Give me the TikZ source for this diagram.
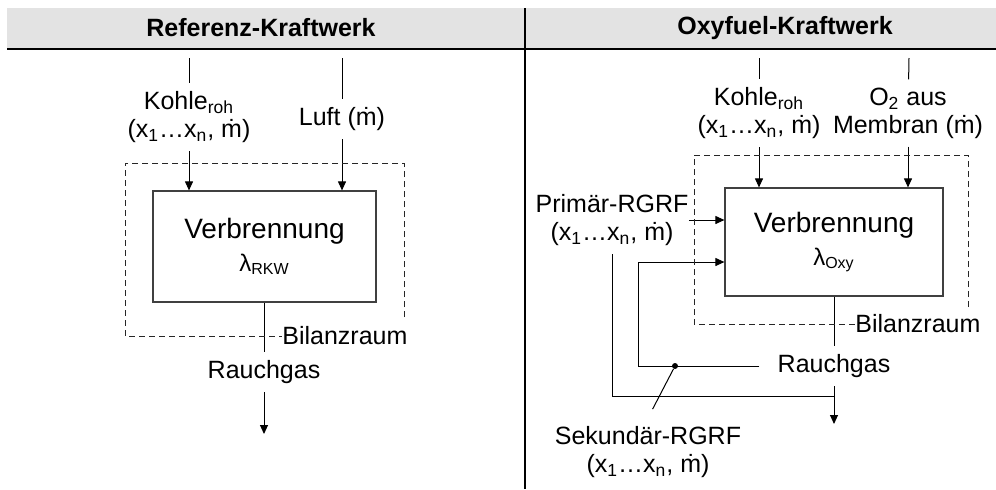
\documentclass[tikz,border=0pt]{standalone}
\usepackage{fontspec}
\setmainfont{Liberation Sans}
\setsansfont{Liberation Sans}
\tikzset{every picture/.style={/utils/exec={\sffamily}}}
\usetikzlibrary{calc}
\usetikzlibrary{positioning}
\usetikzlibrary{arrows.meta}

\newcommand{\massflow}{\.{m}}
\newcommand{\xrange}{(x\textsubscript{1}…x\textsubscript{n}, \massflow)}

\tikzset{
  flow/.style={draw=black, line width=0.5pt},
  feed/.style={flow, -{Triangle[length=4.5pt,width=4pt]}},
  balance/.style={draw=black!85, line width=0.5pt, dash pattern=on 3pt off 2pt},
  lbl/.style={align=center, inner sep=4pt, font=\fontsize{12.5}{14}\selectfont},
  title/.style={font=\fontsize{12.5}{14}\selectfont\bfseries},
  unit/.style={draw=black!75, line width=0.6pt, align=center,
    font=\fontsize{14}{16.5}\selectfont},
}

\begin{document}
\begin{tikzpicture}[x=0.5pt, y=-0.5pt]
  \useasboundingbox (0,0) rectangle (996,489);

  % header and divider
  \fill[black!11] (7,8) rectangle (996,48);
  \draw[line width=1pt] (7,49) -- (996,49);
  \draw[line width=1pt] (525,8) -- (525,489);
  \node[title] (headA) at (261,28) {Referenz-Kraftwerk};
  \node[title] (headB) at (785,28) {Oxyfuel-Kraftwerk};

  %% Referenz-Kraftwerk
  \node[unit, minimum width=111.5pt, minimum height=55.5pt] (boxA) at (264.5,246.5)
    {Verbrennung\\{\fontsize{12}{14}\selectfont λ\textsubscript{RKW}}};

  \node[lbl] (kohleA) at (189,117) {Kohle\textsubscript{roh}\\\xrange};
  \node[lbl] (luftA) at (342,119) {Luft (\massflow)};
  \node[lbl] (rauchA) at (264,372) {Rauchgas};
  \node[lbl, inner sep=0pt, anchor=west] (bilanzA) at (282,336) {Bilanzraum};

  \coordinate (kohleAin) at (189,58);
  \coordinate (luftAin) at (342,58);
  \coordinate (outA) at (264,434);

  \draw[flow] (kohleAin) -- (kohleA);
  \draw[feed] (kohleA) -- (kohleA |- boxA.north);
  \draw[flow] (luftAin) -- (luftA);
  \draw[feed] (luftA) -- (luftA |- boxA.north);
  \draw[flow] (boxA.south -| rauchA) -- (rauchA);
  \draw[feed] (rauchA) -- (outA);

  \draw[balance] (404,317) -- (404,163) -- (125,163) -- (125,336) -- (bilanzA.west);

  %% Oxyfuel-Kraftwerk
  \node[unit, minimum width=109pt, minimum height=54pt] (boxB) at (834,242)
    {Verbrennung\\{\fontsize{12}{14}\selectfont λ\textsubscript{Oxy}}};

  \node[lbl] (kohleB) at (759,113) {Kohle\textsubscript{roh}\\\xrange};
  \node[lbl] (oxyB) at (908,113) {O\textsubscript{2} aus\\Membran (\massflow)};
  \node[lbl, inner xsep=0pt] (primB) at (612,220) {Primär-RGRF\\\xrange};
  \node[lbl, inner xsep=9pt] (rauchB) at (834,366) {Rauchgas};
  \node[lbl] (sekB) at (648,452) {Sekundär-RGRF\\\xrange};
  \node[lbl, inner sep=0pt, anchor=west] (bilanzB) at (855,324) {Bilanzraum};

  \coordinate (kohleBin) at (759,58);
  \coordinate (oxyBin) at (909,58);
  \coordinate (retB) at (638,262);
  \coordinate (joinB) at (834,396);
  \coordinate (outB) at (834,424);
  \node[circle, fill, inner sep=0pt, minimum size=3pt] (branchB) at (675,366) {};

  \draw[flow] (kohleBin) -- (kohleB);
  \draw[feed] (kohleB) -- (kohleB |- boxB.north);
  \draw[flow] (oxyBin) -- (oxyB);
  \draw[feed] (oxyB) -- (oxyB |- boxB.north);
  \draw[feed] (primB.east) -- (primB.east -| boxB.west);
  \draw[flow] (boxB) -- (rauchB);
  \draw[feed] (rauchB) -- (outB);
  \draw[flow] (primB.south) |- (joinB);
  \draw[feed] (rauchB.west) -| (retB) -- (retB -| boxB.west);
  \draw[flow, shorten >=5pt] (branchB) -- (sekB.north);

  \draw[balance] (968,307) -- (968,155) -- (694,155) -- (694,324) -- (bilanzB.west);
\end{tikzpicture}
\end{document}
